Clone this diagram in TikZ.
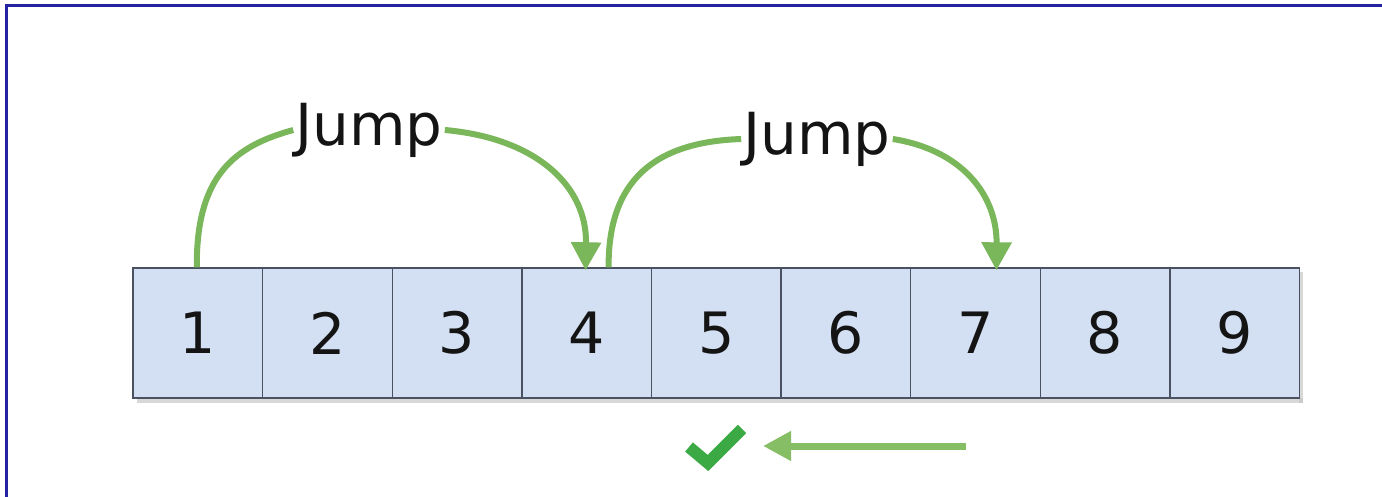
\documentclass[tikz,border=0pt]{standalone}
\usepackage{fontspec}
\setmainfont{DejaVu Sans}
\usetikzlibrary{arrows.meta}

\definecolor{cellfill}{HTML}{D3DFF2}
\definecolor{celledge}{HTML}{4A5262}
\definecolor{jumpgreen}{HTML}{7AB65A}
\definecolor{backgreen}{HTML}{86BE66}
\definecolor{okgreen}{HTML}{3BAA45}
\definecolor{framecol}{HTML}{2424A0}
\definecolor{inkcol}{HTML}{141414}

\tikzset{
  cell/.style={draw=celledge, fill=cellfill, line width=1.4pt,
    minimum width=129.6pt, minimum height=130pt, inner sep=0pt,
    font=\fontsize{57}{60}\selectfont, text=inkcol},
  jumplabel/.style={inner sep=2pt, font=\fontsize{58}{60}\selectfont, text=inkcol},
  jumparc/.style={draw=jumpgreen, line width=6pt,
    -{Triangle[length=28pt,width=29pt]}},
  jumpstart/.style={draw=jumpgreen, line width=6pt},
  backarrow/.style={draw=backgreen, line width=7pt,
    -{Triangle[length=28pt,width=28pt]}},
  tick/.style={draw=okgreen, line width=12pt, line join=miter}
}

\begin{document}
\begin{tikzpicture}[x=1pt, y=-1pt]
  \useasboundingbox (0,0) rectangle (1382,497);
  \fill[white] (0,0) rectangle (1382,497);

  % frame along the top and left edges
  \draw[framecol, line width=3pt] (6,497) -- (6,6) -- (1382,6);

  % soft shadow under the array
  \fill[black!25, opacity=0.6] (137,398) rectangle (1303,403);
  \fill[black!25, opacity=0.6] (1299,272) rectangle (1303,403);

  % the array cells
  \foreach \i in {1,...,9} {
    \node[cell] (c\i) at ({133+129.6*(\i-0.5)}, 333) {\i};
  }

  % jump labels
  \node[jumplabel] (j1) at (369, 130) {Jump};
  \node[jumplabel] (j2) at (817, 139) {Jump};

  % first jump: 1 -> 4
  \draw[jumpstart] ([xshift=-1pt]c1.north) .. controls (196,175) and (235,146) .. (j1.west);
  \draw[jumparc] (j1.east) .. controls (535,138) and (587,185) .. ([xshift=-1pt, yshift=-3pt]c4.north);

  % second jump: 4 -> 7
  \draw[jumpstart] ([xshift=22pt]c4.north) .. controls (608,180) and (655,142) .. (j2.west);
  \draw[jumparc] (j2.east) .. controls (962,150) and (997,195) .. ([xshift=21pt, yshift=-3pt]c7.north);

  % result mark with the backward scan arrow
  \coordinate (ok) at (712, 447);
  \draw[tick] ([shift={(-23,0)}]ok) -- ([shift={(-4,16)}]ok) -- ([shift={(30,-18)}]ok);
  \coordinate (scanstart) at (966, 446);
  \draw[backarrow] (scanstart) -- ([xshift=51pt]ok |- scanstart);
\end{tikzpicture}
\end{document}
